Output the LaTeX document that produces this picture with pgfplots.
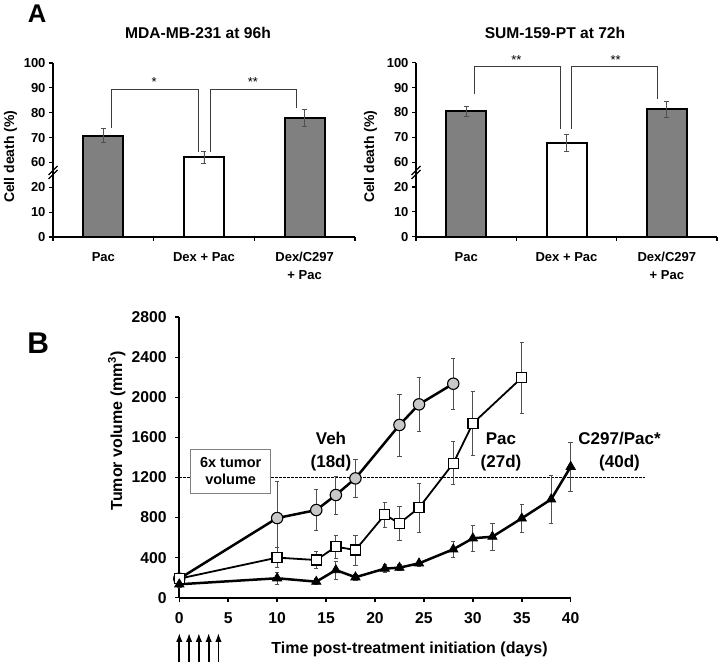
\documentclass[border=0pt]{standalone}
\usepackage{pgfplots}
\pgfplotsset{compat=1.18}
\usepackage{fontspec}
\setmainfont{Liberation Sans}
\usetikzlibrary{arrows.meta}
\definecolor{barg}{RGB}{128,128,128}
\definecolor{circg}{RGB}{200,200,200}
\definecolor{errg}{RGB}{80,80,80}
\definecolor{brk}{RGB}{60,60,60}

% Panel A: broken y axis (0-20 | 60-100); values above 25 are drawn 30 lower
\pgfplotsset{
  barax/.style={
    scale only axis, width=302pt, height=174pt,
    xmin=-0.5, xmax=2.5, ymin=0, ymax=70,
    axis x line=bottom, axis y line=left,
    axis line style={-, line width=2pt, black},
    xtick={-0.5,0.5,1.5,2.5}, xticklabels={},
    extra x ticks={0,1,2},
    extra x tick labels={Pac, Dex + Pac, {Dex/C297\\+ Pac}},
    extra x tick style={major tick length=0pt},
    ytick={0,10,20,30,40,50,60,70},
    yticklabels={0,10,20,60,70,80,90,100},
    tick align=outside,
    tick style={line width=1.2pt, black},
    major tick length=4pt,
    xticklabel style={font=\bfseries\fontsize{13}{18}\selectfont, align=center, yshift=-12pt},
    yticklabel style={font=\bfseries\fontsize{13}{13}\selectfont},
    clip=false,
  },
  errstyle/.style={error bars/.cd, y dir=both, y explicit,
    error bar style={line width=0.8pt, errg},
    error mark options={rotate=90, line width=0.8pt, errg, mark size=#1}},
  greybar/.style={ybar, bar width=40pt, bar shift=0pt, fill=barg, draw=black, line width=2pt,
    y filter/.expression={y>25 ? y-30 : y}, errstyle=2.5pt},
  whitebar/.style={ybar, bar width=40pt, bar shift=0pt, fill=white, draw=black, line width=2pt,
    y filter/.expression={y>25 ? y-30 : y}, errstyle=2.5pt},
}

\begin{document}
\begin{tikzpicture}[x=1pt,y=1pt]
\useasboundingbox (0pt,0pt) rectangle (721pt,666pt);

% ---------- Panel A left ----------
\begin{axis}[barax, at={(53pt,429pt)}, anchor=south west]
\addplot[greybar] coordinates {(0,70.8) +- (0,2.7) (2,77.9) +- (0,3.4)};
\addplot[whitebar] coordinates {(1,62.1) +- (0,2.5)};
\draw[line width=1pt, brk] (axis cs:0.086,44) |- (axis cs:0.95,59.4) -- (axis cs:0.95,34.2);
\draw[line width=1pt, brk] (axis cs:1.06,34.3) |- (axis cs:1.92,59.4) -- (axis cs:1.92,52);
\node[anchor=base, font=\fontsize{13}{13}\selectfont] at (axis cs:0.505,60.5) {*};
\node[anchor=base, font=\fontsize{13}{13}\selectfont] at (axis cs:1.485,60.5) {**};
\end{axis}

% ---------- Panel A right ----------
\begin{axis}[barax, at={(416pt,429.3pt)}, anchor=south west, width=301pt]
\addplot[greybar] coordinates {(0,80.4) +- (0,2.2) (2,81.3) +- (0,3.3)};
\addplot[whitebar] coordinates {(1,67.7) +- (0,3.4)};
\draw[line width=1pt, brk] (axis cs:0.08,57.3) |- (axis cs:0.94,68.4) -- (axis cs:0.94,43.4);
\draw[line width=1pt, brk] (axis cs:1.05,43.4) |- (axis cs:1.91,68.4) -- (axis cs:1.91,55.3);
\node[anchor=base, font=\fontsize{13}{13}\selectfont] at (axis cs:0.5,69.35) {**};
\node[anchor=base, font=\fontsize{13}{13}\selectfont] at (axis cs:1.49,69.35) {**};
\end{axis}

% axis break marks
\foreach \xo in {53,416} {
  \draw[line width=1.3pt, black] (\xo pt-4.5pt,487pt) -- (\xo pt+4.5pt,496pt);
  \draw[line width=1.3pt, black] (\xo pt-4.5pt,491pt) -- (\xo pt+4.5pt,500pt);
}

% titles and labels panel A
\node[font=\bfseries\fontsize{25.6}{26}\selectfont] at (37pt,652pt) {A};
\node[font=\bfseries\fontsize{15.6}{16}\selectfont] at (198pt,633pt) {MDA-MB-231 at 96h};
\node[font=\bfseries\fontsize{15.6}{16}\selectfont] at (555pt,633pt) {SUM-159-PT at 72h};
\node[rotate=90, font=\bfseries\fontsize{14}{14}\selectfont] at (10.5pt,509.3pt) {Cell death (\%)};
\node[rotate=90, font=\bfseries\fontsize{14}{14}\selectfont] at (370.5pt,509.3pt) {Cell death (\%)};

% ---------- Panel B ----------
\begin{axis}[scale only axis, width=391.4pt, height=280.5pt, at={(179.3pt,68.3pt)}, anchor=south west,
  xmin=0, xmax=40, ymin=0, ymax=2800,
  axis x line=bottom, axis y line=left,
  axis line style={-, line width=2.2pt, black},
  xtick={0,5,...,40}, ytick={0,400,...,2800},
  tick align=outside, major tick length=4.5pt,
  tick style={line width=1.5pt, black},
  ticklabel style={font=\bfseries\fontsize{15.7}{16}\selectfont},
  xticklabel style={yshift=-6.7pt},
  yticklabel style={xshift=-4.6pt},
  /pgf/number format/1000 sep={},
  /pgf/number format/assume math mode=true,
  clip=false,
]
\draw[line width=0.9pt, dash pattern=on 2.5pt off 1.5pt] (axis cs:0,1200) -- (axis cs:47.6,1200);
\node[draw=gray, line width=1.2pt, fill=white, minimum width=80pt, minimum height=44pt, inner sep=0pt,
  align=center, font=\bfseries\fontsize{14.5}{16.7}\selectfont] at (axis cs:5.25,1261.5) {6x tumor\\volume};

\addplot[line width=2.5pt, black, mark=*, mark size=5.7pt,
  mark options={fill=circg, draw=black, line width=1.1pt}, errstyle=2.2pt]
  coordinates {(0,190) +- (0,0) (10,795) +- (0,370) (14,875) +- (0,205) (16,1025) +- (0,190)
   (18,1191) +- (0,190) (22.5,1724) +- (0,310) (24.5,1930) +- (0,270) (28,2136) +- (0,255)};

\addplot[line width=1.8pt, black, mark=square*, mark size=5pt,
  mark options={fill=white, draw=black, line width=1.4pt}, errstyle=2.2pt]
  coordinates {(0,190) +- (0,0) (10,400) +- (0,100) (14,376) +- (0,85) (16,509) +- (0,115)
   (18,476) +- (0,150) (21,828) +- (0,125) (22.5,742) +- (0,170) (24.5,898) +- (0,245)
   (28,1341) +- (0,215) (30,1740) +- (0,320) (35,2196) +- (0,355)};

\addplot[line width=2.5pt, black, mark=triangle*, mark size=5.3pt,
  mark options={fill=black, draw=black, line width=0.8pt}, errstyle=2.2pt]
  coordinates {(0,134) +- (0,30) (10,194) +- (0,60) (14,160) +- (0,30) (16,276) +- (0,90)
   (18,204) +- (0,30) (21,290) +- (0,40) (22.5,300) +- (0,30) (24.5,343) +- (0,30)
   (28,483) +- (0,78) (30,593) +- (0,130) (32,609) +- (0,137) (35,792) +- (0,137)
   (38,982) +- (0,236) (40,1307) +- (0,246)};

\node[align=center, font=\bfseries\fontsize{17}{23}\selectfont] at (axis cs:15.5,1457) {Veh\\(18d)};
\node[align=center, font=\bfseries\fontsize{17}{23}\selectfont] at (axis cs:32.88,1457) {Pac\\(27d)};
\node[align=center, font=\bfseries\fontsize{17}{23}\selectfont] at (axis cs:44.99,1457) {C297/Pac*\\(40d)};

\pgfplotsinvokeforeach{0,1,2,3,4}{
  \draw[line width=1.7pt, -{Latex[length=9pt, width=6.5pt]}] (axis cs:#1,-639) -- (axis cs:#1,-352);
}
\end{axis}

\node[font=\bfseries\fontsize{30}{30}\selectfont] at (38.3pt,322.5pt) {B};
\node[font=\bfseries\fontsize{16}{16}\selectfont] at (409.5pt,16.7pt) {Time post-treatment initiation (days)};
\node[rotate=90, font=\bfseries\fontsize{16}{16}\selectfont] at (116.7pt,235.2pt) {Tumor volume (mm\textsuperscript{3})};
\end{tikzpicture}
\end{document}
